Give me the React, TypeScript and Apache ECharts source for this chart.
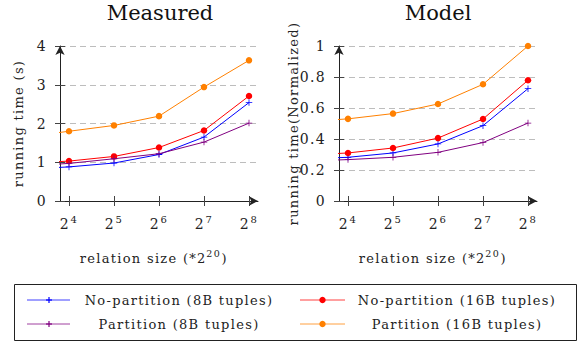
import React, { useEffect, useRef } from 'react';
import * as echarts from 'echarts';

// x values are the exponents k of 2^k (relation size in units of 2^20)
const exponents = [3, 4, 5, 6, 7, 8];
const tickExponents = [4, 5, 6, 7, 8];

const seriesNames = [
  'No-partition (8B tuples)',
  'No-partition (16B tuples)',
  'Partition (8B tuples)',
  'Partition (16B tuples)',
];
const seriesColors = ['#0000ff', '#ff0000', '#800080', '#ff8000'];

// Measured running time (s)
const measuredNoPart8 = [0.82, 0.88, 0.98, 1.2, 1.65, 2.54];
const measuredNoPart16 = [0.97, 1.03, 1.15, 1.38, 1.82, 2.71];
const measuredPart8 = [0.9, 0.97, 1.09, 1.22, 1.52, 2.01];
const measuredPart16 = [1.65, 1.8, 1.95, 2.19, 2.94, 3.63];

// Model running time (normalized)
const modelNoPart8 = [0.27, 0.282, 0.31, 0.368, 0.486, 0.725];
const modelNoPart16 = [0.295, 0.31, 0.342, 0.406, 0.529, 0.779];
const modelPart8 = [0.258, 0.267, 0.282, 0.314, 0.377, 0.503];
const modelPart16 = [0.51, 0.53, 0.564, 0.626, 0.753, 1.0];

const measuredSeries = [measuredNoPart8, measuredNoPart16, measuredPart8, measuredPart16];
const modelSeries = [modelNoPart8, modelNoPart16, modelPart8, modelPart16];

const titles = ['Measured', 'Model'];
const yNames = ['running time (s)', 'running time(Normalized)'];

const FONT = '"DejaVu Serif", serif';
const INK = '#222';
const LS = 1.3; // letter spacing applied to chart texts
const PLUS = 'path://M0 4.4H10V5.6H0Z M4.4 0H5.6V10H4.4Z';

export default function App() {
  const ref = useRef<HTMLDivElement>(null);

  useEffect(() => {
    if (!ref.current) return;
    const chart = echarts.init(ref.current, null, { renderer: 'svg' });

    const rects = [
      { left: 60, top: 46, width: 198, height: 155 },
      { left: 339, top: 46, width: 198, height: 155 },
    ];
    const grid = [...rects, ...rects].map((r) => ({ ...r, containLabel: false, outerBoundsMode: 'none' }));

    const xRich = {
      b: { fontFamily: FONT, fontSize: 14, color: INK, lineHeight: 20, padding: [0, 2, 0, 0] },
      s: { fontFamily: FONT, fontSize: 10, color: INK, verticalAlign: 'top', lineHeight: 10 },
    };

    const namePrefix = 'relation size (*2';
    const mainX = (gi: number) => ({
      type: 'value',
      gridIndex: gi,
      min: 3.8,
      max: 8.2,
      axisLine: {
        show: true,
        onZero: false,
        symbol: ['none', 'arrow'],
        symbolSize: [7, 9],
        lineStyle: { color: INK, width: 1 },
      },
      axisTick: { show: true, customValues: tickExponents, length: 5, lineStyle: { color: '#444' } },
      axisLabel: {
        customValues: tickExponents,
        margin: 13,
        formatter: (v: number) => `{b|2}{s|${v}}`,
        rich: xRich,
      },
      splitLine: { show: false },
      name: `${namePrefix}{s|20}{p|)}`,
      nameLocation: 'middle',
      nameGap: 47,
      nameTextStyle: {
        fontFamily: FONT,
        fontSize: 13,
        color: INK,
        lineHeight: 20,
        rich: {
          s: {
            fontFamily: FONT,
            fontSize: 9.5,
            color: INK,
            verticalAlign: 'top',
            lineHeight: 9,
            padding: [0, 0, 0, 12],
          },
          p: { fontFamily: FONT, fontSize: 13, color: INK, padding: [0, 0, 0, 2.5] },
        },
      },
    });
    const innerX = (gi: number) => ({
      type: 'value',
      gridIndex: gi,
      min: 3.8,
      max: 8.2,
      axisLine: { show: false },
      axisTick: { show: true, inside: true, customValues: tickExponents, length: 5, lineStyle: { color: '#444' } },
      axisLabel: { show: false },
      splitLine: { show: false },
    });

    const mainY = (gi: number, max: number, interval: number, name: string) => ({
      type: 'value',
      gridIndex: gi,
      min: 0,
      max,
      interval,
      axisLine: {
        show: true,
        onZero: false,
        symbol: ['none', 'arrow'],
        symbolSize: [7, 9],
        lineStyle: { color: INK, width: 1 },
      },
      axisTick: { show: true, length: 5, lineStyle: { color: '#444' } },
      axisLabel: { fontFamily: FONT, fontSize: 14, color: INK, margin: 13 },
      splitLine: { show: true, lineStyle: { color: '#bdbdbd', type: [6, 4], width: 1 } },
      name,
      nameLocation: 'middle',
      nameGap: 35,
      nameTextStyle: { fontFamily: FONT, fontSize: 13, color: INK },
    });
    const innerY = (gi: number, max: number, interval: number) => ({
      type: 'value',
      gridIndex: gi,
      min: 0,
      max,
      interval,
      axisLine: { show: false },
      axisTick: { show: true, inside: true, length: 5, lineStyle: { color: '#444' } },
      axisLabel: { show: false },
      splitLine: { show: false },
    });

    const makeSeries = (sets: number[][], axisIndex: number) =>
      sets.map((vals, i) => ({
        type: 'line',
        name: seriesNames[i],
        xAxisIndex: axisIndex,
        yAxisIndex: axisIndex,
        data: exponents.map((e, j) => [e, vals[j]]),
        symbol: i % 2 === 0 ? PLUS : 'circle',
        symbolSize: 6.5,
        showSymbol: true,
        clip: true,
        lineStyle: { color: seriesColors[i], width: 1 },
        itemStyle: { color: seriesColors[i] },
        z: 3 + i,
      }));

    // Legend drawn as graphic
    const legendCols = [
      { x0: 27, x1: 70, mx: 49, tx: 179 },
      { x0: 300, x1: 345, mx: 322.5, tx: 457 },
    ];
    const legendRows = [300, 324];
    const legendEls: any[] = [
      {
        type: 'rect',
        shape: { x: 14.5, y: 284.5, width: 562, height: 56 },
        style: { fill: 'none', stroke: INK, lineWidth: 1 },
      },
    ];
    seriesNames.forEach((label, k) => {
      const col = legendCols[k % 2];
      const y = legendRows[Math.floor(k / 2)];
      const color = seriesColors[k];
      legendEls.push({
        type: 'line',
        shape: { x1: col.x0, y1: y, x2: col.x1, y2: y },
        style: { stroke: color, lineWidth: 1, opacity: 0.75 },
      });
      if (k % 2 === 0) {
        legendEls.push({
          type: 'line',
          shape: { x1: col.mx - 3, y1: y, x2: col.mx + 3, y2: y },
          style: { stroke: color, lineWidth: 1.2 },
        });
        legendEls.push({
          type: 'line',
          shape: { x1: col.mx, y1: y - 3, x2: col.mx, y2: y + 3 },
          style: { stroke: color, lineWidth: 1.2 },
        });
      } else {
        legendEls.push({
          type: 'circle',
          shape: { cx: col.mx, cy: y, r: 3.2 },
          style: { fill: color },
        });
      }
      legendEls.push({
        type: 'text',
        style: {
          text: label,
          x: col.tx,
          y,
          align: 'center',
          verticalAlign: 'middle',
          fontFamily: FONT,
          fontSize: 13,
          fill: INK,
        },
      });
    });

    const titleEls = titles.map((t, i) => ({
      type: 'text',
      style: {
        text: t,
        x: i === 0 ? 160 : 438,
        y: 13,
        align: 'center',
        verticalAlign: 'middle',
        fontFamily: FONT,
        fontSize: 21,
        fill: '#111',
      },
    }));

    chart.setOption({
      animation: false,
      backgroundColor: '#ffffff',
      grid,
      xAxis: [mainX(0), mainX(1), innerX(2), innerX(3)],
      yAxis: [
        mainY(0, 4, 1, yNames[0]),
        mainY(1, 1, 0.2, yNames[1]),
        innerY(2, 4, 1),
        innerY(3, 1, 0.2),
      ],
      series: [...makeSeries(measuredSeries, 0), ...makeSeries(modelSeries, 1)],
      graphic: [...titleEls, ...legendEls],
    });

    return () => chart.dispose();
  }, []);

  return (
    <div style={{ position: 'fixed', left: 0, top: 0 }}>
      <style>{`#chartbox text { letter-spacing: ${LS}px; } #chartbox text[style*="21px"] { letter-spacing: 0; }`}</style>
      <div id="chartbox" ref={ref} style={{ width: 579, height: 344 }} />
    </div>
  );
}
